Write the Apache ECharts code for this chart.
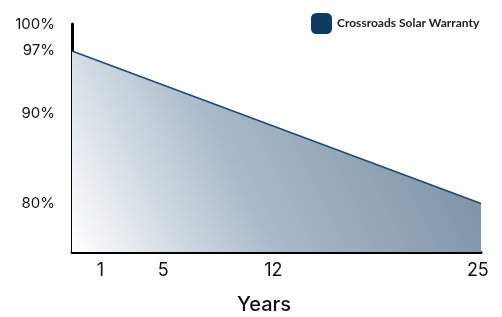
<!DOCTYPE html>
<html>
<head>
    <meta charset="UTF-8">
    <title>Crossroads Solar Warranty</title>
    <script src="https://cdn.jsdelivr.net/npm/echarts@6/dist/echarts.min.js"></script>
    <style>
        html, body { margin: 0; padding: 0; background: #fff; }
        #main { width: 502px; height: 317px; }
    </style>
</head>
<body>
<div id="main"></div>
<script>
    // data
    var years = [-0.8, 25.2];
    var warranty = [97, 80];
    var xTicks = [1, 5, 12, 25];
    var yTicks = [80, 90, 97, 100];
    var seriesName = 'Crossroads Solar Warranty';

    var points = years.map(function (y, i) { return [y, warranty[i]]; });

    var myChart = echarts.init(document.getElementById('main'));
    myChart.setOption({
        animation: false,
        textStyle: {fontFamily: 'Inter'},
        grid: {left: 72, right: 21, top: 24, bottom: 65},
        legend: {
            data: [seriesName],
            left: 306,
            top: 8,
            itemWidth: 21,
            itemHeight: 21,
            icon: 'roundRect',
            textStyle: {fontFamily: 'Lato', fontWeight: 'bold', fontSize: 12, color: '#222'}
        },
        xAxis: {
            type: 'value',
            min: years[0],
            max: years[1],
            splitLine: {show: false},
            axisLine: {show: true, onZero: false, lineStyle: {color: '#000', width: 3}},
            axisTick: {show: false},
            axisLabel: {
                customValues: xTicks,
                fontSize: 18,
                color: '#111',
                margin: 10
            }
        },
        yAxis: {
            type: 'value',
            min: 74.6,
            max: 100,
            splitLine: {show: false},
            axisLine: {show: true, onZero: false, lineStyle: {color: '#000', width: 3}},
            axisTick: {show: false},
            axisLabel: {
                customValues: yTicks,
                fontSize: 15,
                color: '#111',
                margin: 17,
                formatter: '{value}%'
            }
        },
        graphic: [{
            type: 'text',
            x: 264,
            y: 305,
            style: {
                text: 'Years',
                font: '500 20px Inter',
                fill: '#111',
                textAlign: 'center',
                textVerticalAlign: 'middle'
            }
        }],
        series: [{
            name: seriesName,
            type: 'line',
            data: points,
            symbol: 'none',
            itemStyle: {color: '#0f3b63'},
            lineStyle: {color: '#1d4a70', width: 1.5},
            areaStyle: {
                opacity: 1,
                color: new echarts.graphic.LinearGradient(0, 1, 1, 0, [
                    {offset: 0, color: '#ffffff'},
                    {offset: 0.4, color: '#a9bac9'},
                    {offset: 1, color: '#71899d'}
                ])
            }
        }]
    });
</script>
</body>
</html>
